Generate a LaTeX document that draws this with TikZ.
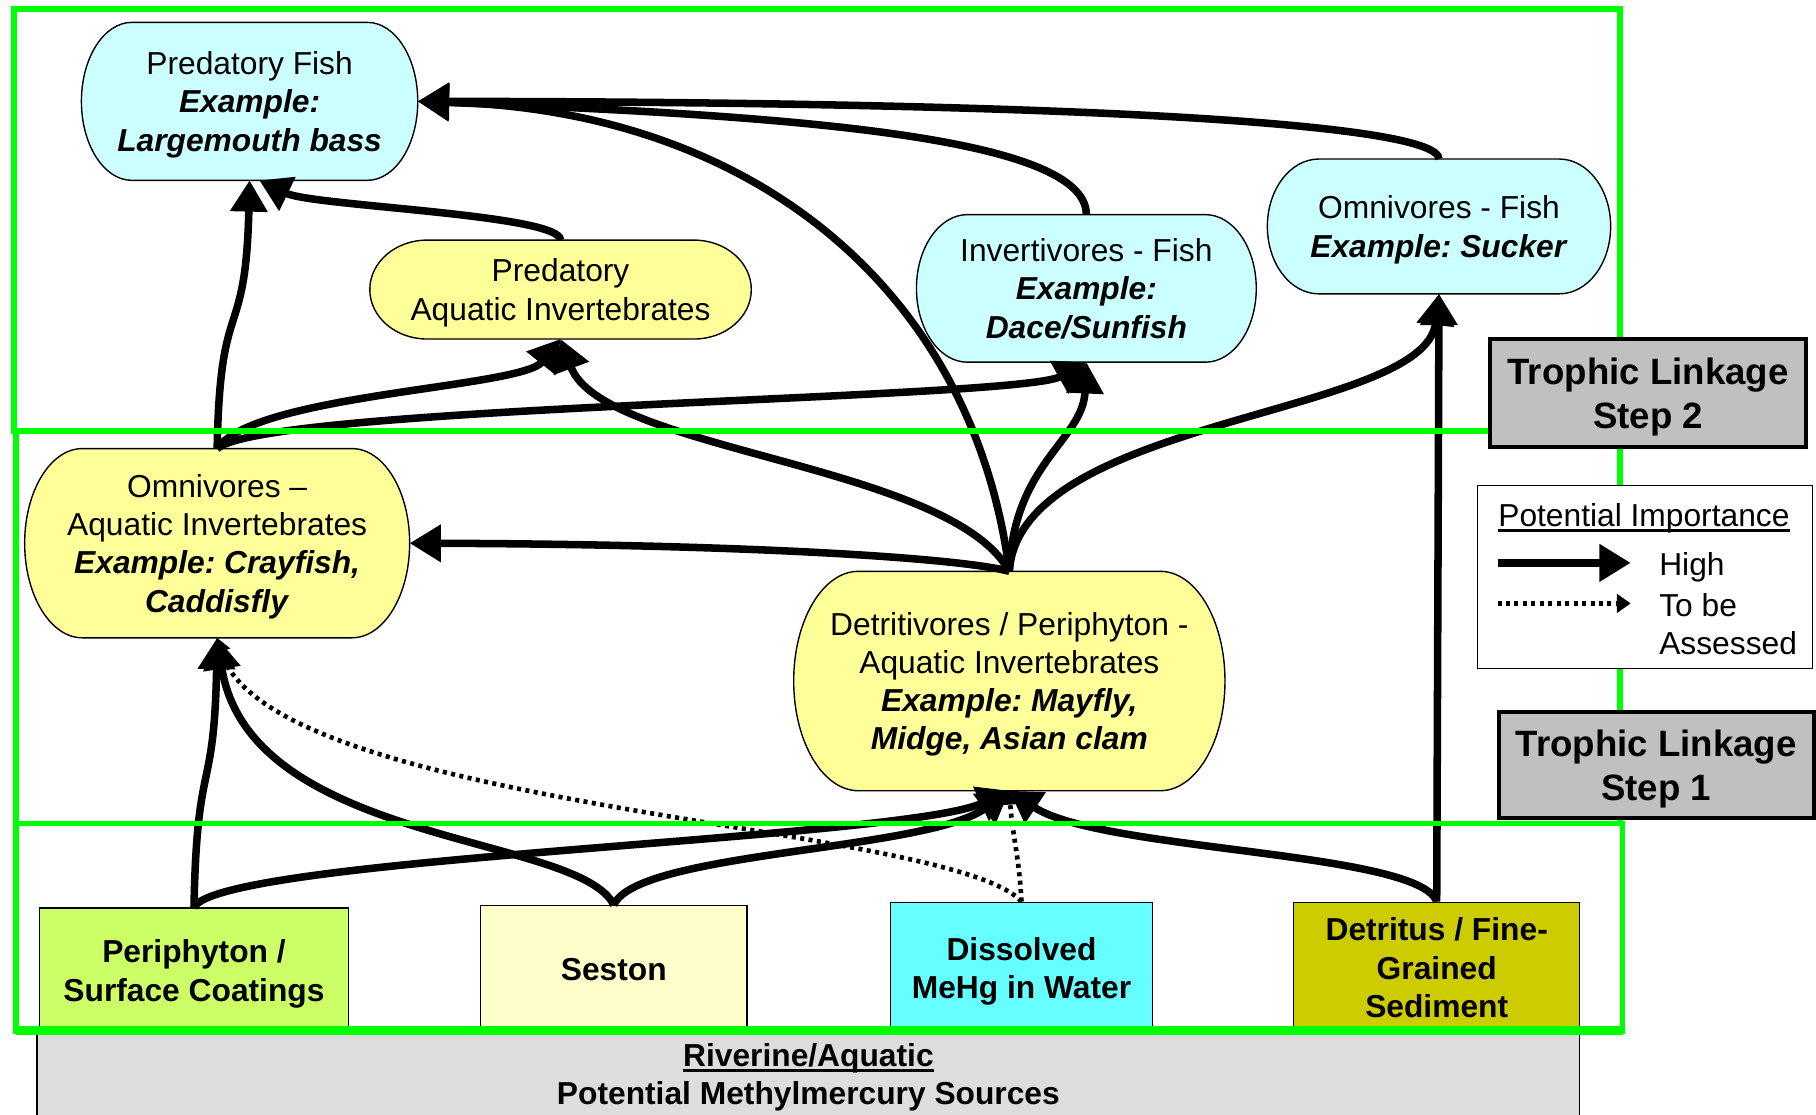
\documentclass[tikz,border=0pt]{standalone}
\usepackage{fontspec}
\setmainfont{Liberation Sans}
\usetikzlibrary{arrows.meta,calc,backgrounds}
\definecolor{fishfill}{HTML}{CCFFFF}
\definecolor{bugfill}{HTML}{FFFF99}
\definecolor{perifill}{HTML}{CCFF66}
\definecolor{sestonfill}{HTML}{FFFFCC}
\definecolor{waterfill}{HTML}{66FFFF}
\definecolor{sedfill}{HTML}{CCCC00}
\definecolor{srcfill}{HTML}{DDDDDD}
\definecolor{stepfill}{HTML}{C0C0C0}
\definecolor{zone}{HTML}{00FF00}
\newcommand\ulabel[1]{\setbox0\hbox{#1}\rlap{\rule[-0.3ex]{\wd0}{0.16ex}}\box0}
\tikzset{
  every node/.append style={text depth=0pt},
  taxon/.style={align=center, inner sep=0pt},
  source/.style={draw, line width=0.12mm, align=center, inner sep=0pt,
    font=\fontsize{7.8}{9.4}\selectfont\bfseries},
  stepbox/.style={draw, line width=0.35mm, fill=stepfill, align=center,
    inner sep=0pt, font=\fontsize{9}{10.8}\selectfont\bfseries},
  hilink/.style={line width=0.65mm, -{Triangle[length=2.7mm,width=3.1mm]}},
  tbdlink/.style={line width=0.4mm, dash pattern=on 0.35mm off 0.38mm,
    -{Triangle[length=1.2mm,width=1.6mm]}},
  zoneline/.style={draw=zone, line width=0.5mm}
}
\frenchspacing
\begin{document}
\begin{tikzpicture}[x=0.1mm, y=-0.1mm, font=\fontsize{7.8}{9.4}\selectfont]
	\useasboundingbox (0,0) rectangle (1568,962);
	\node (pf) [taxon, minimum width=28.9mm, minimum height=13.5mm] at (215.5,87.5)
		{Predatory Fish\\\textbf{\textit{Example:}}\\\textbf{\textit{Largemouth bass}}};
	\node (pai) [taxon, minimum width=32.8mm, minimum height=8.4mm] at (484,250)
		{Predatory\\Aquatic Invertebrates};
	\node (inv) [taxon, minimum width=29.2mm, minimum height=12.6mm] at (938,249)
		{Invertivores - Fish\\\textbf{\textit{Example:}}\\\textbf{\textit{Dace/Sunfish}}};
	\node (omf) [taxon, minimum width=29.5mm, minimum height=11.5mm] at (1242.5,195.5)
		{Omnivores - Fish\\\textbf{\textit{Example: Sucker}}};
	\node (omi) [taxon, minimum width=33.1mm, minimum height=16.2mm] at (187.5,469)
		{Omnivores --\\Aquatic Invertebrates\\\textbf{\textit{Example: Crayfish,}}\\\textbf{\textit{Caddisfly}}};
	\node (det) [taxon, minimum width=37.1mm, minimum height=18.8mm] at (871.5,588)
		{Detritivores / Periphyton -\\Aquatic Invertebrates\\\textbf{\textit{Example: Mayfly,}}\\\textbf{\textit{Midge, Asian clam}}};
	\node (peri) [source, fill=perifill, minimum width=26.7mm, minimum height=10.8mm] at (167.5,838)
		{Periphyton /\\Surface Coatings};
	\node (seston) [source, fill=sestonfill, minimum width=23mm, minimum height=11mm] at (530,837)
		{Seston};
	\node (water) [source, fill=waterfill, minimum width=22.6mm, minimum height=11.3mm] at (882,835.5)
		{Dissolved\\MeHg in Water};
	\node (sed) [source, fill=sedfill, minimum width=24.7mm, minimum height=11.3mm] at (1240.5,835.5)
		{Detritus / Fine-\\Grained\\Sediment};
	\node (src) [source, fill=srcfill, minimum width=133.2mm, minimum height=7.1mm] at (698,927.5)
		{\ulabel{Riverine/Aquatic}\\Potential Methylmercury Sources};
	\begin{scope}[on background layer]
		\foreach \nd/\cl in {pf/fishfill, pai/bugfill, inv/fishfill, omf/fishfill, omi/bugfill, det/bugfill}
			\draw[fill=\cl, line width=0.12mm] let \p1=(\nd.north west), \p2=(\nd.south east),
				\n1={(\y1-\y2)/2}, \n2={0.15*(\x2-\x1)} in
				(\x1+\n2*1pt,\y1) -- (\x2-\n2*1pt,\y1)
				arc[start angle=90, end angle=-90, x radius=\n2*1pt, y radius=\n1*1pt]
				-- (\x1+\n2*1pt,\y2)
				arc[start angle=270, end angle=90, x radius=\n2*1pt, y radius=\n1*1pt] -- cycle;
	\end{scope}
	\draw[hilink] (det.north) .. controls (840,250) and (650,95) .. (pf.east);
	\draw[hilink] (inv.north) .. controls (938,120) and (700,100) .. (pf.east);
	\draw[hilink] (omf.north) .. controls (1242,105) and (900,88) .. (pf.east);
	\draw[hilink] (pai.north) .. controls (484,185) and (270,178) .. (pf.-83);
	\draw[hilink] (omi.north) .. controls (190,250) and (212,300) .. (pf.south);
	\draw[hilink] (omi.north) .. controls (220,340) and (450,335) .. (pai.south);
	\draw[hilink] (omi.north) .. controls (230,350) and (880,345) .. (inv.south);
	\draw[hilink] (det.north) .. controls (820,400) and (520,390) .. (pai.south);
	\draw[hilink] (det.north) .. controls (875,400) and (935,380) .. (inv.south);
	\draw[hilink] (det.north) .. controls (880,360) and (1230,360) .. (omf.south);
	\draw[hilink] (det.north) .. controls (830,482) and (650,470) .. (omi.east);
	\draw[hilink] (sed.north) -- (omf.south);
	\draw[hilink] (peri.north) .. controls (170,650) and (185,690) .. (omi.south);
	\draw[hilink] (seston.north) .. controls (500,720) and (215,730) .. (omi.south);
	\draw[hilink] (seston.north) .. controls (550,735) and (800,735) .. (det.south);
	\draw[hilink] (peri.north) .. controls (190,740) and (780,725) .. (det.south);
	\draw[hilink] (sed.north) .. controls (1225,735) and (950,735) .. (det.south);
	\draw[tbdlink] (water.north) .. controls (880,740) and (874,720) .. (det.south);
	\draw[tbdlink] (water.north) .. controls (820,710) and (230,700) .. (omi.south);
	\draw[zoneline] (12,8) rectangle (1399,372);
	\draw[zoneline] (14,372) rectangle (1399,711);
	\draw[zoneline] (14,711) rectangle (1401,890);
	\draw[zoneline, line width=0.8mm] (14,890) -- (1401,890);
	\node (step2) [stepbox, minimum width=27.3mm, minimum height=9.3mm] at (1423,339.5)
		{Trophic Linkage\\Step 2};
	\node (step1) [stepbox, minimum width=27.2mm, minimum height=9.1mm] at (1430,660.5)
		{Trophic Linkage\\Step 1};
	\node (legend) [draw, fill=white, line width=0.1mm, minimum width=28.9mm, minimum height=15.8mm] at (1420.5,498) {};
	\node (legtitle) [anchor=west, inner sep=0pt] at (1293,445) {\ulabel{Potential Importance}};
	\coordinate (hiA) at (1293,486);
	\coordinate (hiB) at (1408,486);
	\draw[hilink] (hiA) -- (hiB);
	\node (hitext) [anchor=west, inner sep=0pt] at (1432,487) {High};
	\coordinate (tbdA) at (1293,521);
	\coordinate (tbdB) at (1408,521);
	\draw[tbdlink] (tbdA) -- (tbdB);
	\node (tbdtext) [anchor=west, align=left, inner sep=0pt] at (1432,539) {To be\\Assessed};
\end{tikzpicture}
\end{document}
